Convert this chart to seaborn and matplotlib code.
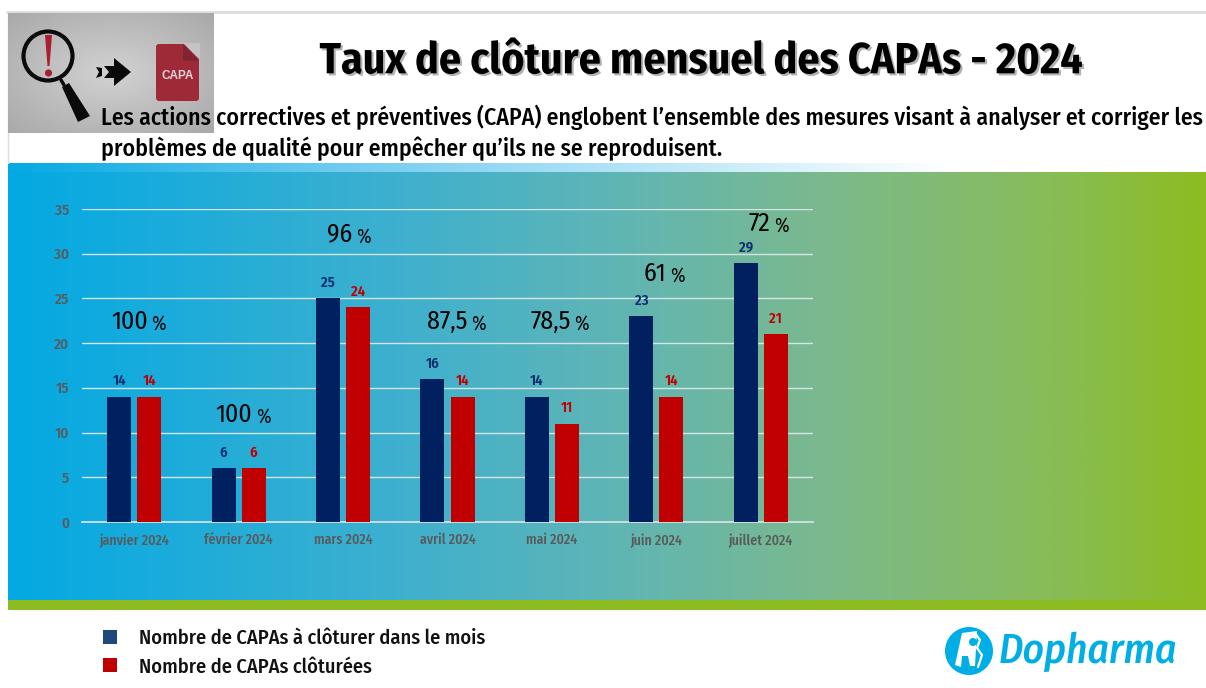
import numpy as np
import pandas as pd
import matplotlib
matplotlib.use("Agg")
import matplotlib.pyplot as plt
import matplotlib.patheffects as pe
from matplotlib.colors import LinearSegmentedColormap
from matplotlib.patches import Circle, FancyBboxPatch, Polygon, Patch
import seaborn as sns

# données
mois = ["janvier 2024", "février 2024", "mars 2024", "avril 2024", "mai 2024", "juin 2024", "juillet 2024"]
a_cloturer = [14, 6, 25, 16, 14, 23, 29]
cloturees = [14, 6, 24, 14, 11, 14, 21]
taux = ["100", "100", "96", "87,5", "78,5", "61", "72"]
serie_a = "Nombre de CAPAs à clôturer dans le mois"
serie_b = "Nombre de CAPAs clôturées"

sns.set_theme(style="white")
FONT = ["Fira Sans Condensed", "Roboto", "DejaVu Sans"]
plt.rcParams["font.family"] = FONT

W, H = 1206, 688
fig = plt.figure(figsize=(W / 100, H / 100), dpi=100, facecolor="white")

# fond en pixels
bg = fig.add_axes([0, 0, 1, 1], zorder=0)
bg.set_xlim(0, W)
bg.set_ylim(H, 0)
bg.axis("off")

bleu_vert = LinearSegmentedColormap.from_list(
    "bv", [(0, "#03a9e3"), (0.33, "#3fb0ce"), (0.5, "#5eb5b6"), (0.68, "#7bb98e"),
           (0.85, "#87bc60"), (1, "#8cbc22")])
grad = np.linspace(0, 1, 512).reshape(1, -1)
bg.imshow(grad, cmap=bleu_vert, extent=(8, 1206, 600, 172), aspect="auto", zorder=1)
bande = LinearSegmentedColormap.from_list("bb", [(0, "#03a9e3"), (0.35, "#6fcbf0"), (1, "#ffffff")])
bg.imshow(grad, cmap=bande, extent=(8, 950, 172, 163), aspect="auto", zorder=1)
bg.fill_between([8, 1206], 600, 610, color="#8cbc22", lw=0, zorder=1)
bg.plot([7, 1206], [12, 12], color="#dddddd", lw=2, zorder=1)
bg.plot([7.5, 7.5], [12, 163], color="#dddddd", lw=1, zorder=1)

# vignette loupe -> CAPA
xx, yy = np.meshgrid(np.linspace(-1, 1, 200), np.linspace(-1, 1, 120))
gris = LinearSegmentedColormap.from_list("g", ["#d2d2d3", "#a9a9aa"])
bg.imshow(np.hypot(xx, yy), cmap=gris, extent=(8, 214, 133, 13), aspect="auto", zorder=2, vmin=0, vmax=1.41)
bg.add_patch(Circle((48, 56), 24.5, fc="none", ec="#0a0a0a", lw=3, zorder=3))
bg.plot([61, 64], [80, 85], color="#0a0a0a", lw=2.5, zorder=3)
bg.add_patch(Polygon([(62, 87), (69, 83), (90, 116), (78, 122)], fc="#0a0a0a", ec="none", zorder=3))
bg.add_patch(Polygon([(45, 35), (52, 35), (49.5, 66), (47.5, 66)], fc="#a8202f", ec="none", zorder=3))
bg.add_patch(Circle((48.5, 73), 3.6, fc="#a8202f", ec="none", zorder=3))
bg.add_patch(Polygon([(104, 66), (114, 66), (114, 58), (131, 72), (114, 86), (114, 78), (104, 78), (109, 72)],
                     fc="#0a0a0a", ec="none", zorder=3))
bg.add_patch(Polygon([(96, 67), (102, 68), (102, 76), (96, 78), (99, 72)], fc="#0a0a0a", ec="none", zorder=3))
bg.add_patch(FancyBboxPatch((156, 44), 43, 57, boxstyle="round,pad=0,rounding_size=3", fc="#9e2a38", ec="none", zorder=3))
bg.add_patch(Polygon([(183, 43), (200, 43), (200, 60)], fc="#c4c4c5", ec="none", zorder=3))
bg.add_patch(Polygon([(183, 44), (199, 61), (183, 61)], fc="#7f2430", ec="none", zorder=3))
bg.text(178, 76, "CAPA", color="#e6d5d7", fontsize=8.5, fontweight="bold", ha="center", va="center",
        family=["Liberation Sans", "DejaVu Sans"], zorder=4)

# textes d'en-tête
bg.text(701, 62, "Taux de clôture mensuel des CAPAs - 2024", fontsize=31.5, fontweight="bold", color="black",
        ha="center", va="center", zorder=5,
        path_effects=[pe.withSimplePatchShadow(offset=(1.5, -1.5), shadow_rgbFace="#555555", alpha=0.45)])
bg.text(101, 117, "Les actions correctives et préventives (CAPA) englobent l’ensemble des mesures visant à analyser et corriger les",
        fontsize=17.1, fontweight="medium", color="black", ha="left", va="center", zorder=5)
bg.text(101, 149, "problèmes de qualité pour empêcher qu’ils ne se reproduisent.",
        fontsize=17.1, fontweight="medium", color="black", ha="left", va="center", zorder=5)

# logo
bg.add_patch(Circle((969, 651), 24, fc="#00aee6", ec="none", zorder=3))
bg.add_patch(Polygon([(955, 665), (962, 633), (977, 631), (975, 666), (970, 666), (968, 656), (962, 656), (961, 667)],
                     fc="white", ec="none", zorder=4))
bg.add_patch(Circle((973, 642), 4, fc="#00aee6", ec="none", zorder=5))
bg.plot([975, 980, 977, 982, 978], [633, 640, 648, 655, 667], color="white", lw=1.6, zorder=4)
bg.text(999, 652, "Dopharma", fontsize=29.8, fontweight="medium", color="#00aee6", style="italic",
        ha="left", va="center", zorder=4)

# graphique
df = pd.DataFrame({
    "mois": mois * 2,
    "valeur": a_cloturer + cloturees,
    "serie": [serie_a] * len(mois) + [serie_b] * len(mois),
})
ax = fig.add_axes([82 / W, (H - 522) / H, 731 / W, 313 / H], zorder=2)
ax.patch.set_alpha(0)
sns.barplot(data=df, x="mois", y="valeur", hue="serie", order=mois, hue_order=[serie_a, serie_b],
            palette=["#002060", "#c00000"], saturation=1, width=0.575, gap=0.2, legend=False, ax=ax, zorder=3,
            edgecolor="none", linewidth=0)

ax.set_ylim(0, 35)
ax.set_yticks(range(0, 36, 5))
ax.set_xlabel("")
ax.set_ylabel("")
ax.grid(axis="y", color="#d5e4e4", lw=1, zorder=1)
ax.set_axisbelow(True)
sns.despine(ax=ax, left=True, top=True, right=True)
ax.spines["bottom"].set_color("#d5e4e4")
ax.tick_params(axis="both", length=0, labelcolor="#595959", labelsize=10)
ax.tick_params(axis="x", pad=8)
ax.tick_params(axis="y", pad=9, labelsize=11)
for lab in ax.get_xticklabels() + ax.get_yticklabels():
    lab.set_fontweight("medium")

for cont, col in zip(ax.containers, ["#0c2f70", "#c00000"]):
    ax.bar_label(cont, padding=6, color=col, fontsize=10.5, fontweight="semibold")

# taux de clôture au-dessus des barres
pct_y = [22.4, 12.0, 32.2, 22.4, 22.4, 27.8, 33.4]
pct_droite = [0.13, 0.13, 0.09, 0.19, 0.18, 0.10, 0.09]
for i, t in enumerate(taux):
    num = ax.text(i + pct_droite[i], pct_y[i], t, fontsize=18.5, color="black",
                  ha="right", va="center", zorder=5)
    ax.annotate("%", xy=(1, 0), xycoords=num, xytext=(2.5, 0), textcoords="offset points",
                fontsize=14, color="black", ha="left", va="bottom")

# légende
handles = [Patch(fc="#1f497d", ec="none", label=serie_a), Patch(fc="#c00000", ec="none", label=serie_b)]
leg = fig.legend(handles=handles, loc="upper left", bbox_to_anchor=(103 / W, (H - 629) / H), frameon=False,
                 fontsize=14.7, labelcolor="#111111", handlelength=0.68, handleheight=0.68, handletextpad=1.08,
                 labelspacing=0.42, borderaxespad=0, borderpad=0)
for txt in leg.get_texts():
    txt.set_fontweight("medium")

fig.savefig("out.png", dpi=100, facecolor="white")
